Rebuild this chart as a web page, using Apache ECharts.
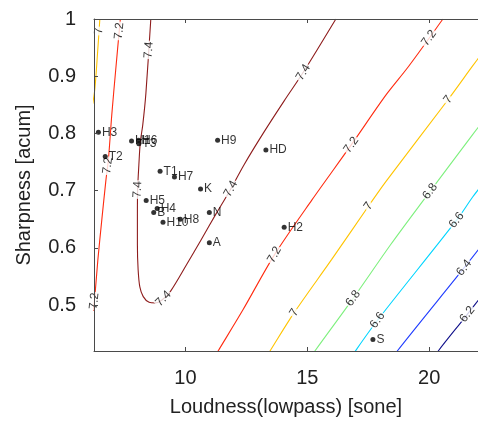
<!DOCTYPE html>
<html>
<head>
<meta charset="utf-8">
<script src="https://cdn.jsdelivr.net/npm/echarts@6/dist/echarts.min.js"></script>
<style>
  html, body { margin: 0; padding: 0; background: #fff; }
  #chart { width: 478px; height: 422px; }
</style>
</head>
<body>
<div id="chart"></div>
<script>
// Iso-preference contours over (loudness, sharpness): [loudness, sharpness] pairs
const contour74 = [[8.58,1.0],[8.38,0.871],[8.25,0.815],[8.15,0.785],[8.09,0.745],[8.04,0.702],[8.03,0.658],[8.03,0.606],[8.06,0.562],[8.13,0.532],[8.27,0.515],[8.51,0.505],[8.76,0.504],[9.04,0.509],[9.40,0.525],[10.05,0.571],[10.64,0.614],[11.26,0.660],[11.82,0.700],[12.40,0.745],[13.20,0.801],[14.05,0.857],[14.82,0.906],[16.17,1.0]];
const contour72Left = [[7.33,1.0],[7.14,0.911],[6.98,0.833],[6.84,0.754],[6.74,0.719],[6.57,0.649],[6.41,0.580],[6.29,0.518],[6.22,0.490]];
const contour72Right = [[11.20,0.41],[11.34,0.420],[12.36,0.492],[13.65,0.588],[15.19,0.684],[16.80,0.780],[18.22,0.867],[19.15,0.917],[20.56,1.0]];
const contour70Left = [[6.49,1.0],[6.39,0.937],[6.29,0.880],[6.20,0.852]];
const contour70Right = [[13.33,0.41],[13.47,0.420],[14.46,0.487],[16.00,0.580],[17.49,0.672],[18.22,0.716],[20.77,0.859],[21.78,0.918],[22.2,0.942]];
const contour68 = [[15.17,0.41],[15.31,0.420],[16.88,0.512],[18.42,0.606],[19.72,0.681],[21.78,0.798],[22.2,0.821]];
const contour66 = [[16.83,0.41],[16.97,0.420],[17.90,0.475],[21.13,0.649],[21.78,0.689],[22.2,0.712]];
const contour64 = [[18.57,0.41],[18.69,0.420],[21.37,0.562],[22.2,0.607]];
const contour62 = [[20.25,0.41],[20.37,0.420],[21.45,0.478],[22.2,0.519]];

// Where each contour carries its level label
const labels74 = [[8.535,0.946],[8.07,0.702],[9.08,0.512],[11.87,0.703],[14.82,0.907]];
const labels72 = [[7.32,0.979],[6.76,0.744],[6.31,0.507],[13.65,0.588],[16.80,0.780],[20.04,0.965]];
const labels70 = [[6.49,0.979],[14.46,0.487],[17.49,0.674],[20.77,0.859]];
const labels68 = [[16.88,0.512],[20.12,0.696]];
const labels66 = [[17.90,0.473],[21.13,0.648]];
const labels64 = [[21.41,0.566]];
const labels62 = [[21.62,0.482]];

// Rated sounds
const sampleNames = ['H3','T2','H1','H6','T3','H9','T1','H7','K','H5','H4','B','H10','H8','N','A','HD','H2','S'];
const loudness    = [6.43,6.71,7.79,8.08,8.09,11.32,8.96,9.55,10.62,8.39,8.84,8.70,9.08,9.79,10.98,10.98,13.30,14.05,17.69];
const sharpness   = [0.802,0.760,0.787,0.788,0.782,0.788,0.734,0.724,0.703,0.683,0.669,0.662,0.645,0.650,0.662,0.609,0.771,0.636,0.440];

// Contour levels with their jet colours
const levels = [
  { text: '7.4', color: '#8e1c1c', lines: [contour74], labels: labels74 },
  { text: '7.2', color: '#ff2b10', lines: [contour72Left, contour72Right], labels: labels72 },
  { text: '7',   color: '#ffc400', lines: [contour70Left, contour70Right], labels: labels70 },
  { text: '6.8', color: '#7ef07e', lines: [contour68], labels: labels68 },
  { text: '6.6', color: '#00d5ff', lines: [contour66], labels: labels66 },
  { text: '6.4', color: '#1f3cff', lines: [contour64], labels: labels64 },
  { text: '6.2', color: '#10108a', lines: [contour62], labels: labels62 }
];

const FONT = '"Liberation Sans", Arial, sans-serif';
const AXIS_COLOR = '#4a4a4a';

const chart = echarts.init(document.getElementById('chart'), null, { renderer: 'canvas' });

const lineSeries = [];
levels.forEach(lv => {
  lv.lines.forEach(line => {
    lineSeries.push({
      type: 'line', data: line, showSymbol: false, silent: true,
      smooth: 0.3, clip: true, z: 2,
      lineStyle: { color: lv.color, width: 1.1 }
    });
  });
});

function labelSeriesFor(lv, idx, items) {
  return {
    id: 'lvl' + idx,
    type: 'scatter', symbolSize: 0, silent: true, z: 3,
    data: items,
    label: {
      show: true, position: 'inside', formatter: lv.text,
      color: '#000', fontSize: 12, fontFamily: FONT,
      backgroundColor: '#fff', padding: [0, 1], lineHeight: 12
    }
  };
}

const pointSeries = {
  type: 'scatter', z: 5, symbolSize: 5, silent: true,
  itemStyle: { color: '#000' },
  data: sampleNames.map((n, i) => ({ name: n, value: [loudness[i], sharpness[i]] })),
  label: {
    show: true, position: 'right', distance: 1,
    formatter: p => p.name, color: '#000', fontSize: 12, fontFamily: FONT
  }
};

const option = {
  animation: false,
  backgroundColor: '#fff',
  grid: { left: 94, top: 19, bottom: 70, right: -6 },
  xAxis: [{
    type: 'value', min: 6.25, max: 22, minInterval: 5, maxInterval: 5, z: 10,
    name: 'Loudness(lowpass) [sone]', nameLocation: 'middle', nameGap: 46,
    nameTextStyle: { fontSize: 20, color: '#222', fontFamily: FONT },
    axisLine: { show: true, lineStyle: { color: AXIS_COLOR, width: 1 } },
    axisTick: { show: true, inside: true, length: 4, lineStyle: { color: AXIS_COLOR } },
    axisLabel: { fontSize: 20, color: '#222', fontFamily: FONT, margin: 17, showMinLabel: false, showMaxLabel: false },
    splitLine: { show: false }
  }, {
    type: 'value', position: 'top', min: 6.25, max: 22, minInterval: 5, maxInterval: 5, z: 10,
    axisLine: { show: true, lineStyle: { color: AXIS_COLOR, width: 1 } },
    axisTick: { show: true, inside: true, length: 4, lineStyle: { color: AXIS_COLOR } },
    axisLabel: { show: false },
    splitLine: { show: false }
  }],
  yAxis: {
    type: 'value', min: 0.42, max: 1, minInterval: 0.1, maxInterval: 0.1, z: 10,
    name: 'Sharpness [acum]', nameLocation: 'middle', nameGap: 60, nameRotate: 90,
    nameTextStyle: { fontSize: 20, color: '#222', fontFamily: FONT },
    axisLine: { show: true, lineStyle: { color: AXIS_COLOR, width: 1 } },
    axisTick: { show: true, inside: true, length: 4, lineStyle: { color: AXIS_COLOR } },
    axisLabel: { fontSize: 20, color: '#222', fontFamily: FONT, margin: 18, showMinLabel: false, showMaxLabel: true },
    splitLine: { show: false }
  },
  series: lineSeries
    .concat(levels.map((lv, i) => labelSeriesFor(lv, i, lv.labels)))
    .concat([pointSeries])
};

chart.setOption(option);

// Snap each level label onto its contour and turn it along the local direction
const finder = { seriesIndex: 0 };
function placeOnContour(pt, lines) {
  const p = chart.convertToPixel(finder, pt);
  let best = null;
  lines.forEach(line => {
    const px = line.map(d => chart.convertToPixel(finder, d));
    for (let i = 0; i < px.length - 1; i++) {
      const a = px[i], b = px[i + 1];
      const dx = b[0] - a[0], dy = b[1] - a[1];
      const len2 = dx * dx + dy * dy;
      if (!len2) continue;
      let t = ((p[0] - a[0]) * dx + (p[1] - a[1]) * dy) / len2;
      t = Math.max(0, Math.min(1, t));
      const q = [a[0] + t * dx, a[1] + t * dy];
      const d = Math.hypot(q[0] - p[0], q[1] - p[1]);
      if (!best || d < best.d) best = { d, q, dx, dy };
    }
  });
  let ang = Math.atan2(-best.dy, best.dx) * 180 / Math.PI;
  if (ang > 90) ang -= 180;
  if (ang <= -90) ang += 180;
  return { value: chart.convertFromPixel(finder, best.q), label: { rotate: ang } };
}

chart.setOption({
  series: levels.map((lv, i) => ({
    id: 'lvl' + i,
    data: lv.labels.map(pt => placeOnContour(pt, lv.lines))
  }))
});
</script>
</body>
</html>
